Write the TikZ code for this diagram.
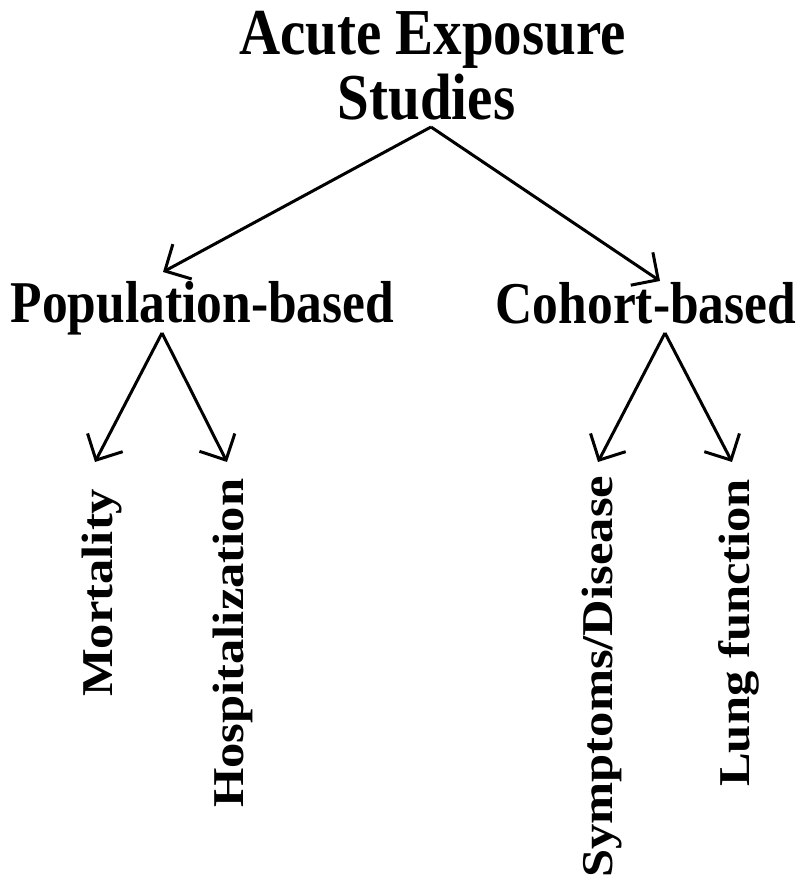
\documentclass[tikz,border=0pt]{standalone}
\usepackage{fontspec}
\setmainfont{Liberation Serif}
\usetikzlibrary{arrows.meta}
\tikzset{
  lbl/.style={inner sep=0pt, font=\bfseries},
  hlbl/.style={lbl, anchor=base, yscale=1.15},
  vlbl/.style={lbl, anchor=base west, rotate=90, xscale=1.15, font=\bfseries\fontsize{44}{44}\selectfont},
  arr/.style={line width=3pt, -{Straight Barb[angle=90:28pt, line width=3pt]}}
}
\begin{document}
\begin{tikzpicture}[x=1pt,y=1pt]
\useasboundingbox (0,0) rectangle (797,880);
% headings
\node[hlbl, font=\bfseries\fontsize{57}{57}\selectfont] (title) at (432.5,825) {Acute Exposure};
\node[hlbl, font=\bfseries\fontsize{57}{57}\selectfont] (title2) at (426.5,760) {Studies};
\node[hlbl, font=\bfseries\fontsize{51.5}{51.5}\selectfont] (pop) at (202.5,557) {Population-based};
\node[hlbl, font=\bfseries\fontsize{51.5}{51.5}\selectfont] (coh) at (646,556) {Cohort-based};
% rotated leaves
\node[vlbl] (mort) at (112,183) {Mortality};
\node[vlbl] (hosp) at (243,72) {Hospitalization};
\node[vlbl] (symp) at (612,2) {Symptoms/Disease};
\node[vlbl] (lung) at (749,93) {Lung function};
% connector ends
\coordinate (t0) at (431,753);
\coordinate (tl) at (163,608);
\coordinate (tr) at (660,599);
\coordinate (p0) at (162,547);
\coordinate (pl) at (95,418);
\coordinate (pr) at (227,418);
\coordinate (c0) at (665,547);
\coordinate (cl) at (598,418);
\coordinate (cr) at (732,418);
% connectors
\draw[arr] (t0) -- (tl);
\draw[arr] (t0) -- (tr);
\draw[arr] (p0) -- (pl);
\draw[arr] (p0) -- (pr);
\draw[arr] (c0) -- (cl);
\draw[arr] (c0) -- (cr);
\end{tikzpicture}
\end{document}
